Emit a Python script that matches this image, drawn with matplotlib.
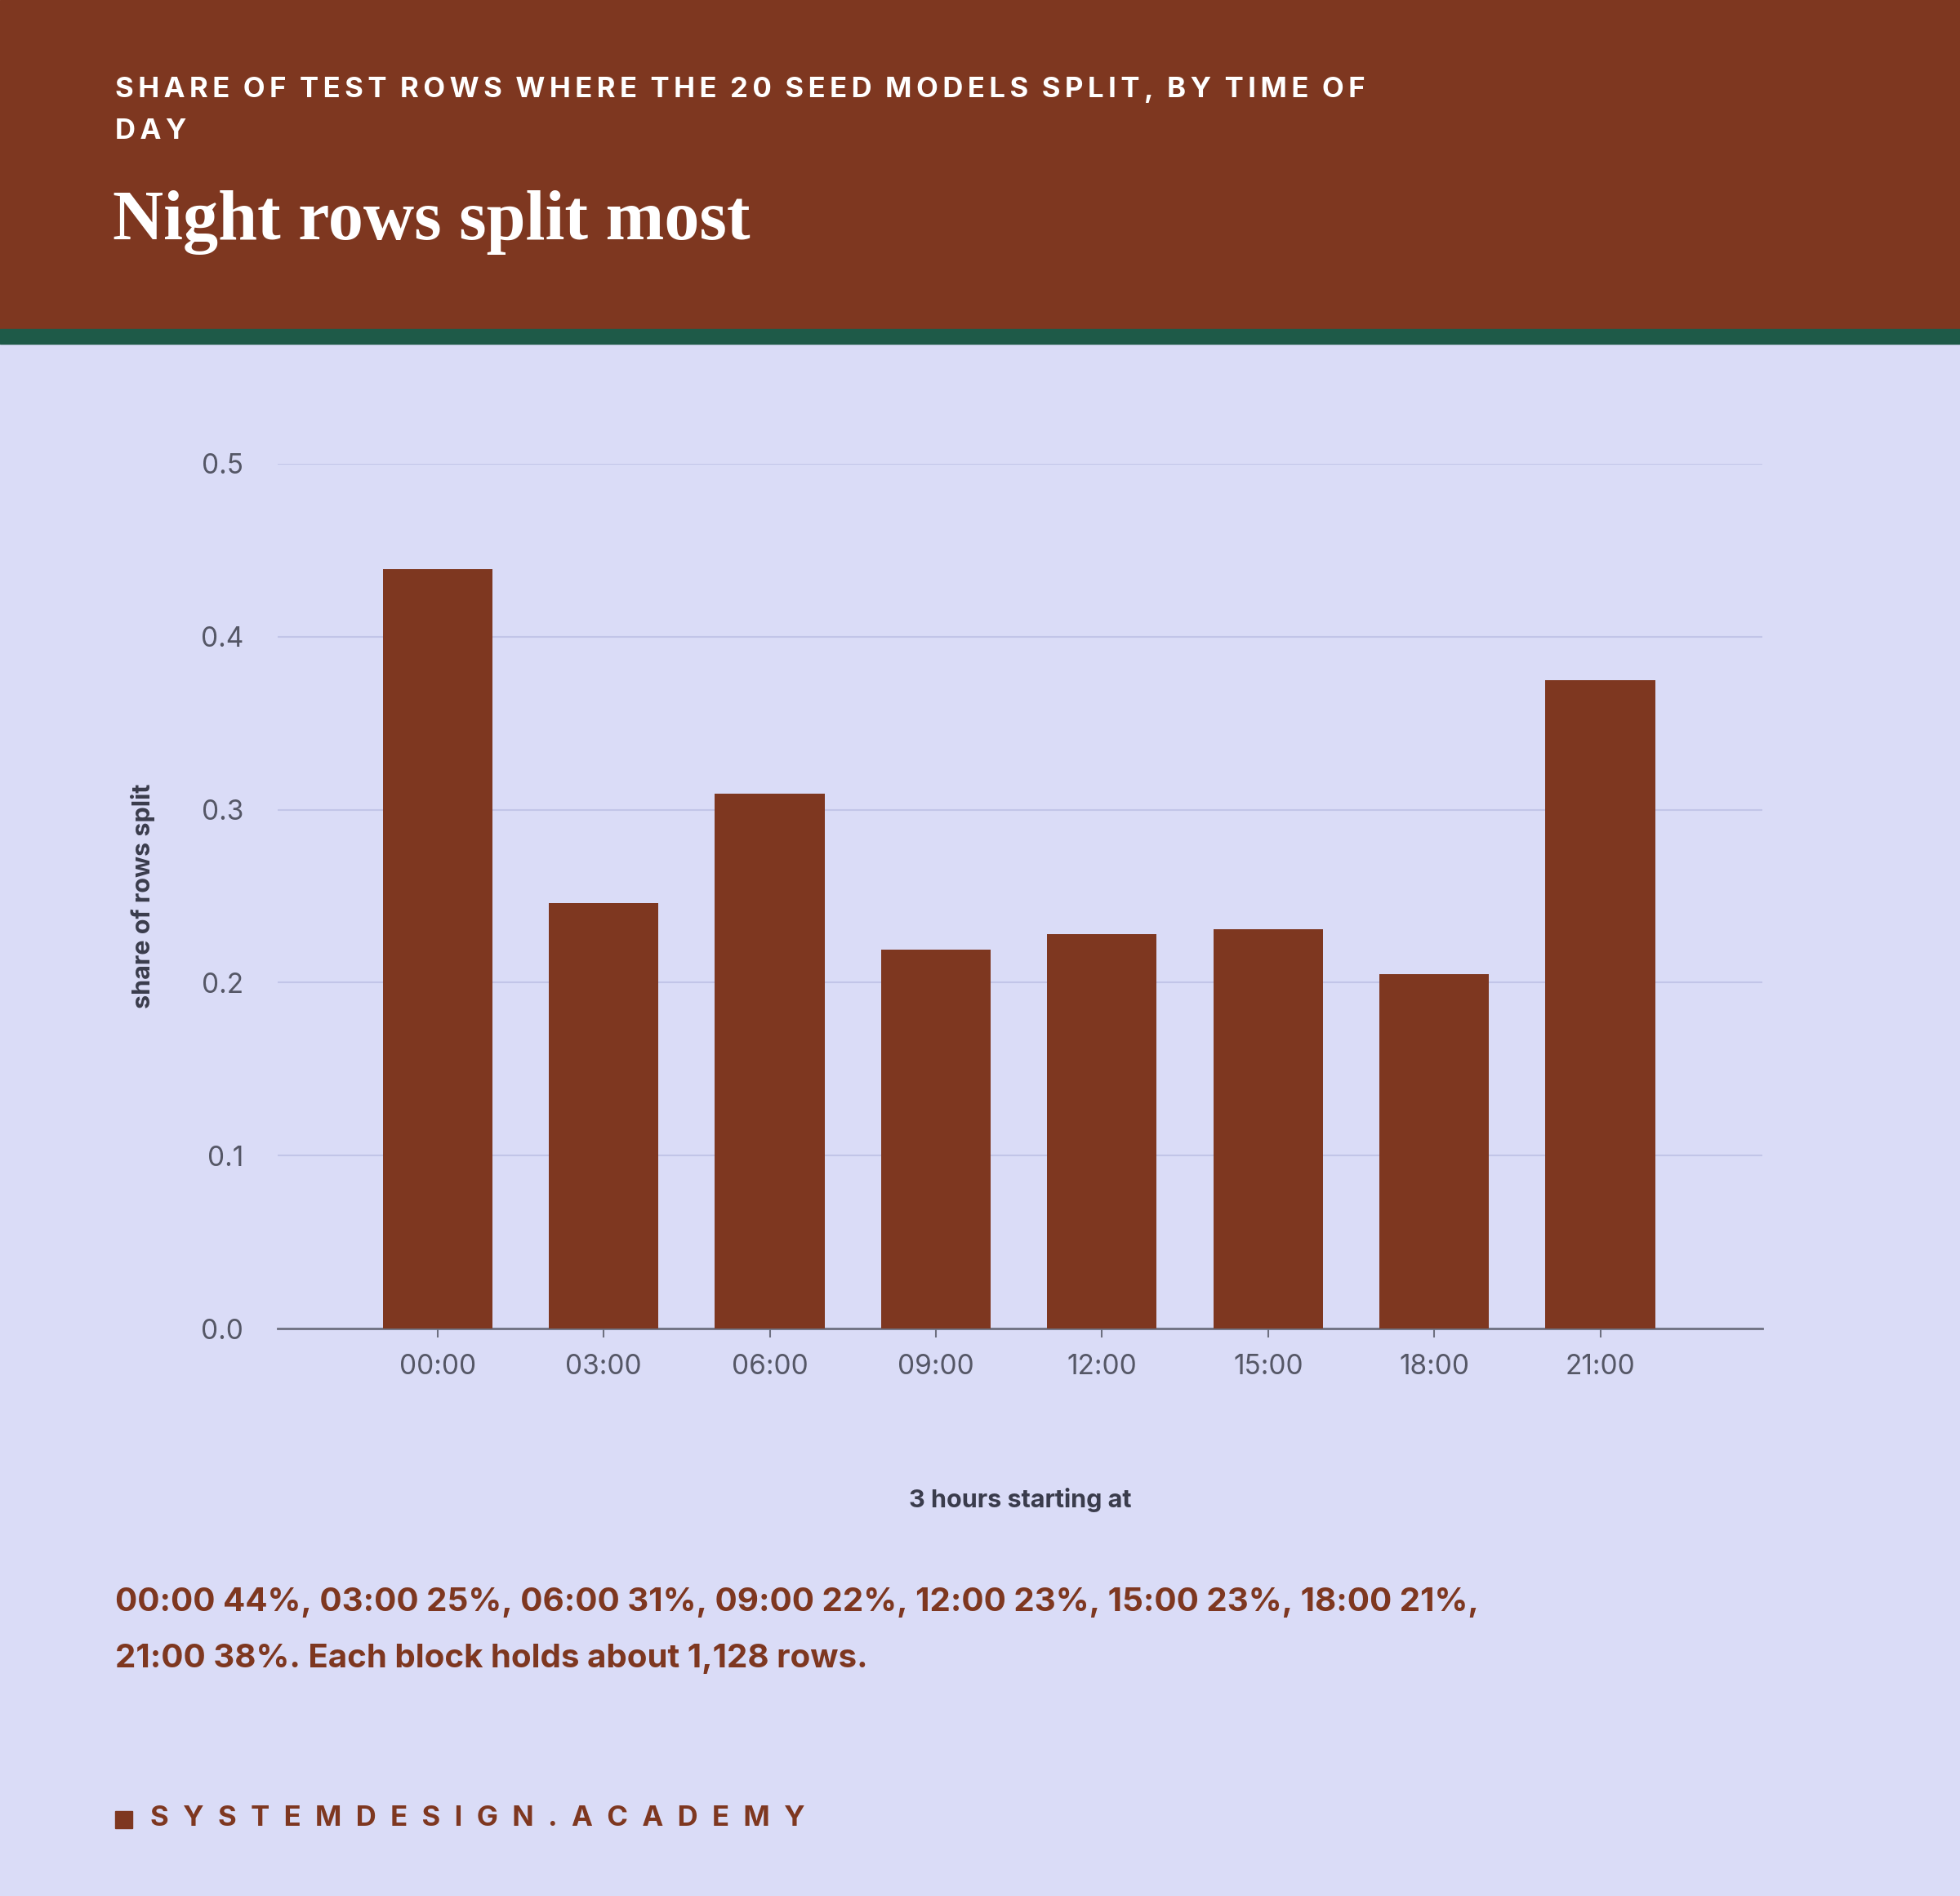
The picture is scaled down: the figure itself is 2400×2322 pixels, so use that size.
import matplotlib
matplotlib.use("Agg")
import matplotlib.pyplot as plt
from matplotlib.patches import Rectangle

categories = ["00:00", "03:00", "06:00", "09:00", "12:00", "15:00", "18:00", "21:00"]
values = [0.439, 0.246, 0.309, 0.219, 0.228, 0.231, 0.205, 0.375]
yticks = [0.0, 0.1, 0.2, 0.3, 0.4, 0.5]

BROWN = "#7E3720"
BG = "#DADCF7"
GREEN = "#1E5A48"

plt.rcParams['font.family'] = ['Inter', 'DejaVu Sans']
fig = plt.figure(figsize=(24, 23.22), dpi=100, facecolor=BG)

H = 1517.0
def fy(y):
    return 1 - y / H
def fx(x):
    return x / 1568.0

fig.patches.append(Rectangle((0, fy(263)), 1, 263 / H, transform=fig.transFigure, color=BROWN, zorder=0))
fig.patches.append(Rectangle((0, fy(275)), 1, 12 / H, transform=fig.transFigure, color=GREEN, zorder=0))

def spaced(s, sep="\u2009"):
    return sep.join(s).replace(sep + " " + sep, "  ")

fig.text(fx(92), fy(72), spaced("SHARE OF TEST ROWS WHERE THE 20 SEED MODELS SPLIT, BY TIME OF"),
         color="white", fontsize=25, fontweight="bold", va="center", ha="left")
fig.text(fx(92), fy(105), spaced("DAY"), color="white", fontsize=25, fontweight="bold", va="center", ha="left")
fig.text(fx(90), fy(178), "Night rows split most", color="white", fontsize=62, fontweight="bold",
         family=["Liberation Serif", "DejaVu Serif"], va="center", ha="left")

ax = fig.add_axes([fx(222), fy(1063), fx(1410) - fx(222), (1063 - 371) / H])
ax.set_facecolor(BG)
x = list(range(len(categories)))
ax.bar(x, values, width=0.66, color=BROWN, zorder=3)
ax.set_xlim(-0.963, 7.976)
ax.set_ylim(0, 0.5)
ax.set_yticks(yticks)
ax.set_yticklabels([f"{t:.1f}" for t in yticks])
ax.set_xticks(x)
ax.set_xticklabels(categories)
ax.grid(axis="y", color="#C2C5E8", linewidth=1.5, zorder=0)
for s in ["top", "right", "left"]:
    ax.spines[s].set_visible(False)
ax.spines["bottom"].set_color("#6E7080")
ax.spines["bottom"].set_linewidth(2)
ax.tick_params(axis="y", length=0, pad=30, labelsize=24, labelcolor="#555766")
ax.tick_params(axis="x", length=8, width=1.5, color="#6E7080", pad=14, labelsize=24, labelcolor="#555766")
ax.set_ylabel("share of rows split", fontsize=22, fontweight="bold", color="#3A3C4C", labelpad=40)
ax.set_xlabel("3 hours starting at", fontsize=22, fontweight="bold", color="#3A3C4C", labelpad=95)

fig.text(fx(92), fy(1282), "00:00 44%, 03:00 25%, 06:00 31%, 09:00 22%, 12:00 23%, 15:00 23%, 18:00 21%,",
         color=BROWN, fontsize=29, fontweight="bold", va="center", ha="left")
fig.text(fx(92), fy(1327), "21:00 38%. Each block holds about 1,128 rows.",
         color=BROWN, fontsize=29, fontweight="bold", va="center", ha="left")

fig.patches.append(Rectangle((fx(92), fy(1463)), 14 / 1568, 14 / H, transform=fig.transFigure, color=BROWN))
fig.text(fx(120), fy(1455), spaced("SYSTEMDESIGN.ACADEMY", "\u2002"), color=BROWN, fontsize=25,
         fontweight="bold", va="center", ha="left")

fig.savefig("out.png", dpi=100, facecolor=BG)
